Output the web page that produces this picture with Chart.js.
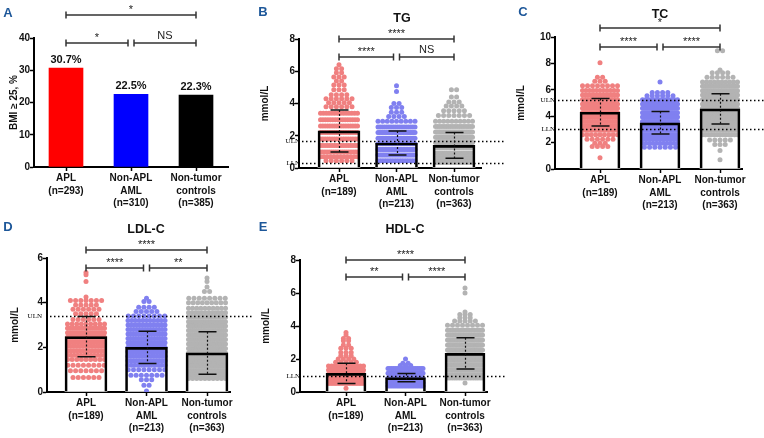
<!DOCTYPE html>
<html>
<head>
<meta charset="utf-8">
<script src="https://cdn.jsdelivr.net/npm/chart.js@4"></script>
<style>
html, body { margin: 0; padding: 0; background: #fff; }
#wrap { position: relative; width: 764px; height: 438px; }
#wrap canvas { position: absolute; left: 0; top: 0; }
</style>
</head>
<body>
<div id="wrap">
  <canvas id="cA" width="764" height="438"></canvas>
  <canvas id="cB" width="764" height="438"></canvas>
  <canvas id="cC" width="764" height="438"></canvas>
  <canvas id="cD" width="764" height="438"></canvas>
  <canvas id="cE" width="764" height="438"></canvas>
</div>
<script>
// ---- data ----
const labelsBmi = [['APL', '(n=293)'], ['Non-APL', 'AML', '(n=310)'], ['Non-tumor', 'controls', '(n=385)']];
const labelsLipid = [['APL', '(n=189)'], ['Non-APL', 'AML', '(n=213)'], ['Non-tumor', 'controls', '(n=363)']];

const bmiPct = [30.7, 22.5, 22.3];
const bmiSig = ['*', '*', 'NS'];   // APL-control, APL-AML, AML-control

const tgMean = [2.3, 1.55, 1.4];
const tgSd = [1.3, 0.75, 0.8];
const tgSig = ['****', '****', 'NS'];
const tgRefNames = ['ULN', 'LLN'];
const tgRefValues = [1.7, 0.3];
const tgAplLevels = [6.4, 6.15, 5.9, 5.65, 5.4, 5.15, 4.85, 4.55, 4.3, 4.05, 3.8, 3.4, 3.0, 2.6, 2.2, 1.8, 1.4, 1.0, 0.7, 0.45];
const tgAplCounts = [1, 2, 2, 3, 2, 3, 3, 4, 6, 5, 6, 14, 16, 17, 17, 17, 17, 18, 12, 6];
const tgAmlLevels = [5.1, 4.75, 4.0, 3.75, 3.45, 3.2, 2.9, 2.55, 2.2, 1.85, 1.5, 1.15, 0.8, 0.45];
const tgAmlCounts = [1, 1, 2, 3, 3, 4, 9, 18, 24, 26, 26, 26, 24, 16];
const tgCtlLevels = [4.85, 4.4, 4.1, 3.85, 3.55, 3.25, 2.9, 2.57, 2.24, 1.91, 1.58, 1.25, 0.92, 0.6, 0.35];
const tgCtlCounts = [2, 2, 3, 4, 5, 7, 10, 18, 30, 36, 40, 42, 42, 38, 24];

const tcMean = [4.3, 3.5, 4.55];
const tcSd = [1.05, 0.85, 1.15];
const tcSig = ['*', '****', '****'];
const tcRefNames = ['ULN', 'LLN'];
const tcRefValues = [5.2, 3.0];
const tcAplLevels = [8.05, 6.95, 6.65, 6.3, 5.95, 5.6, 5.27, 4.93, 4.6, 4.27, 3.93, 3.6, 3.27, 2.93, 2.6, 2.25, 1.95, 1.7, 0.85];
const tcAplCounts = [1, 2, 3, 8, 11, 13, 14, 15, 16, 16, 16, 15, 14, 12, 9, 6, 3, 4, 1];
const tcAmlLevels = [6.6, 5.8, 5.55, 5.25, 4.92, 4.6, 4.27, 3.93, 3.6, 3.27, 2.93, 2.6, 2.27, 1.95, 1.65];
const tcAmlCounts = [1, 4, 6, 12, 15, 17, 18, 19, 19, 19, 18, 17, 15, 11, 7];
const tcCtlLevels = [8.95, 7.5, 7.3, 6.95, 6.6, 6.27, 5.93, 5.6, 5.27, 4.93, 4.6, 4.27, 3.93, 3.6, 3.27, 2.93, 2.6, 2.2, 1.85, 1.4, 0.7];
const tcCtlCounts = [2, 1, 4, 6, 10, 14, 20, 27, 29, 30, 30, 30, 29, 28, 22, 18, 13, 5, 3, 1, 1];

const ldlMean = [2.48, 2.0, 1.75];
const ldlSd = [0.9, 0.72, 0.95];
const ldlSig = ['****', '****', '**'];
const ldlRefNames = ['ULN'];
const ldlRefValues = [3.4];
const ldlAplLevels = [5.35, 5.25, 4.95, 4.25, 4.1, 3.9, 3.7, 3.5, 3.25, 3.05, 2.85, 2.65, 2.45, 2.25, 2.05, 1.85, 1.65, 1.45, 1.2, 0.95, 0.65];
const ldlAplCounts = [1, 1, 1, 1, 7, 5, 6, 5, 6, 9, 14, 16, 17, 16, 15, 13, 12, 9, 8, 7, 6];
const ldlAmlLevels = [4.2, 4.05, 3.8, 3.6, 3.4, 3.2, 3.0, 2.8, 2.6, 2.4, 2.2, 2.0, 1.8, 1.6, 1.4, 1.2, 1.0, 0.75, 0.55, 0.3, 0.05];
const ldlAmlCounts = [1, 2, 4, 5, 8, 11, 13, 14, 15, 15, 16, 16, 16, 15, 14, 12, 8, 7, 3, 2, 1];
const ldlCtlLevels = [5.1, 4.95, 4.7, 4.5, 4.2, 4.0, 3.75, 3.55, 3.35, 3.15, 2.95, 2.75, 2.55, 2.35, 2.15, 1.95, 1.75, 1.55, 1.35, 1.15, 0.95, 0.75, 0.6];
const ldlCtlCounts = [1, 1, 1, 2, 8, 9, 10, 12, 14, 16, 18, 19, 20, 21, 22, 23, 24, 24, 24, 24, 22, 18, 10];

const hdlMean = [1.13, 0.87, 2.34];
const hdlSd = [0.62, 0.25, 0.95];
const hdlSig = ['****', '**', '****'];
const hdlRefNames = ['LLN'];
const hdlRefValues = [1.0];
const hdlAplLevels = [3.6, 3.45, 3.25, 3.1, 2.85, 2.65, 2.4, 2.2, 2.0, 1.8, 1.58, 1.33, 1.07, 0.8, 0.53, 0.22];
const hdlAplCounts = [1, 1, 2, 2, 2, 3, 3, 3, 4, 5, 12, 30, 38, 38, 26, 1];
const hdlAmlLevels = [2.0, 1.75, 1.6, 1.43, 1.13, 0.83, 0.56, 0.36];
const hdlAmlCounts = [1, 2, 3, 20, 45, 55, 50, 20];
const hdlCtlLevels = [6.3, 6.0, 4.85, 4.7, 4.5, 4.3, 4.05, 3.75, 3.45, 3.15, 2.85, 2.55, 2.25, 1.95, 1.65, 1.35, 1.05, 0.85, 0.55];
const hdlCtlCounts = [1, 1, 1, 3, 3, 5, 8, 14, 22, 28, 31, 33, 34, 34, 33, 31, 28, 16, 1];

// ---- style ----
Chart.defaults.font.family = "'Liberation Sans', Arial, sans-serif";
Chart.defaults.font.size = 10;
Chart.defaults.font.weight = 'bold';
Chart.defaults.color = '#111';
Chart.defaults.animation = false;
Chart.defaults.plugins.legend.display = false;
Chart.defaults.plugins.tooltip.enabled = false;

const W = 764, H = 438, X_AXIS_H = 50;
const barColors = ['#ff0000', '#0000ff', '#000000'];
const dotColors = ['#f08080', '#8080f0', '#b3b3b3'];
const letterColor = '#1d5799';

// rows of dots laid side by side around the category centre
function swarm(levels, counts, xc, stepU, halfU) {
  const pts = [];
  levels.forEach((v, i) => {
    const n = counts[i];
    const s = n > 1 ? Math.min(stepU, 2 * halfU / (n - 1)) : 0;
    for (let k = 0; k < n; k++) pts.push({ x: xc + (k - (n - 1) / 2) * s, y: v });
  });
  return pts;
}

function overlay(L, d) {
  return {
    id: 'overlay' + L.canvas,
    afterDatasetsDraw(chart) {
      const ctx = chart.ctx, xs = chart.scales.x, ys = chart.scales.y;
      ctx.save();
      // reference lines
      (d.refNames || []).forEach((nm, i) => {
        const y = Math.round(ys.getPixelForValue(d.refValues[i])) + 0.5;
        ctx.strokeStyle = '#000';
        ctx.lineWidth = 1.5;
        ctx.setLineDash([1.5, 2.5]);
        ctx.beginPath(); ctx.moveTo(L.left + 3, y); ctx.lineTo(L.refEnd, y); ctx.stroke();
        ctx.setLineDash([]);
        ctx.font = '7px "Liberation Serif", serif';
        ctx.fillStyle = '#000';
        ctx.textAlign = 'right';
        ctx.textBaseline = 'middle';
        ctx.fillText(nm, L.refLabelX, y);
      });
      // mean +/- SD
      if (d.sd) {
        d.means.forEach((m, i) => {
          const x = Math.round(xs.getPixelForValue(i)) + 0.5;
          const yHi = ys.getPixelForValue(m + d.sd[i]);
          const yLo = ys.getPixelForValue(Math.max(0, m - d.sd[i]));
          ctx.strokeStyle = '#111';
          ctx.lineWidth = 1.2;
          ctx.setLineDash([2, 2]);
          ctx.beginPath(); ctx.moveTo(x, yHi); ctx.lineTo(x, yLo); ctx.stroke();
          ctx.setLineDash([]);
          ctx.lineWidth = 1.5;
          ctx.beginPath();
          ctx.moveTo(x - 9, yHi); ctx.lineTo(x + 9, yHi);
          ctx.moveTo(x - 9, yLo); ctx.lineTo(x + 9, yLo);
          ctx.stroke();
        });
      }
      // value labels above bars
      if (d.valueLabels) {
        ctx.font = "bold 11px 'Liberation Sans', Arial";
        ctx.fillStyle = '#111';
        ctx.textAlign = 'center';
        ctx.textBaseline = 'middle';
        d.means.forEach((m, i) => {
          ctx.fillText(m.toFixed(1) + '%', xs.getPixelForValue(i), ys.getPixelForValue(m) - 8);
        });
      }
      // significance brackets
      const c0 = xs.getPixelForValue(0), c1 = xs.getPixelForValue(1), c2 = xs.getPixelForValue(2);
      const spans = [[c0, c2, L.brackets[0]], [c0, c1 - 3, L.brackets[1]], [c1 + 3, c2, L.brackets[1]]];
      ctx.strokeStyle = '#333';
      ctx.lineWidth = 1.5;
      spans.forEach(([x1, x2, y], i) => {
        ctx.beginPath();
        ctx.moveTo(x1, y); ctx.lineTo(x2, y);
        ctx.moveTo(x1, y - 3.5); ctx.lineTo(x1, y + 3.5);
        ctx.moveTo(x2, y - 3.5); ctx.lineTo(x2, y + 3.5);
        ctx.stroke();
        const t = d.sig[i];
        ctx.fillStyle = '#222';
        ctx.textAlign = 'center';
        ctx.font = "11px 'Liberation Sans', Arial";
        if (t === 'NS') {
          ctx.textBaseline = 'middle';
          ctx.fillText(t, (x1 + x2) / 2, y - 7);
        } else {
          ctx.textBaseline = 'alphabetic';
          ctx.fillText(t, (x1 + x2) / 2, y - 2);
        }
      });
      // panel letter and title
      ctx.fillStyle = letterColor;
      ctx.font = "bold 13px 'Liberation Sans', Arial";
      ctx.textAlign = 'center';
      ctx.textBaseline = 'middle';
      ctx.fillText(L.letter[0], L.letter[1], L.letter[2]);
      if (L.title) {
        ctx.fillStyle = '#111';
        ctx.font = "bold 12.5px 'Liberation Sans', Arial";
        ctx.fillText(L.title[0], L.title[1], L.title[2]);
      }
      ctx.restore();
    }
  };
}

function makePanel(L, d) {
  const xMin = (L.left - L.c0) / L.ppu, xMax = (L.right - L.c0) / L.ppu;
  const yW = L.left - L.yTitleX + 6;
  const barData = d.means.map((v, i) => ({ x: i, y: v }));
  const datasets = [];
  if (d.solid) {
    datasets.push({ type: 'bar', data: barData, backgroundColor: barColors, barThickness: L.barPx, grouped: false, order: 3 });
  } else {
    datasets.push({ type: 'bar', data: barData, backgroundColor: '#fff', barThickness: L.barPx, grouped: false, order: 4 });
    d.dots.forEach((g, i) => {
      datasets.push({
        type: 'scatter',
        data: swarm(g[0], g[1], i, 5.2 / L.ppu, (L.barPx / 2 - 2.5) / L.ppu),
        backgroundColor: dotColors[i], pointRadius: 2.5, pointBorderWidth: 0, order: 2
      });
    });
    datasets.push({ type: 'bar', data: barData, backgroundColor: 'rgba(0,0,0,0)', borderColor: '#000', borderWidth: 2, barThickness: L.barPx, grouped: false, order: 1 });
  }
  const axisGrid = { drawOnChartArea: false, drawTicks: true, tickLength: 4, tickWidth: 1.5, tickColor: '#000', offset: false };
  new Chart(document.getElementById(L.canvas), {
    type: 'bar',
    data: { datasets },
    options: {
      responsive: false,
      layout: { padding: { left: L.left - yW, right: W - L.right, top: L.top, bottom: H - L.bottom - X_AXIS_H } },
      scales: {
        x: {
          type: 'linear', min: xMin, max: xMax, offset: false,
          afterBuildTicks: s => { s.ticks = [0, 1, 2].map(v => ({ value: v })); },
          afterFit: s => { s.height = X_AXIS_H; },
          ticks: { callback: v => d.xLabels[v], autoSkip: false, maxRotation: 0, padding: 1, font: { size: 10, weight: 'bold', lineHeight: 1.25 } },
          grid: axisGrid,
          border: { display: true, color: '#000', width: 2 }
        },
        y: {
          min: 0, max: L.yMax,
          afterFit: s => { s.width = yW; },
          ticks: { stepSize: L.yStep, padding: 0, font: { size: 10, weight: 'bold' } },
          title: { display: true, text: d.yTitle, padding: 0, font: { size: 10, weight: 'bold' } },
          grid: axisGrid,
          border: { display: true, color: '#000', width: 2 }
        }
      }
    },
    plugins: [overlay(L, d)]
  });
}

makePanel(
  { canvas: 'cA', left: 34, right: 228, top: 38, bottom: 167, c0: 66, ppu: 65, yTitleX: 14, yMax: 40, yStep: 10, barPx: 34,
    brackets: [15, 43], letter: ['A', 8, 13], title: null },
  { solid: true, means: bmiPct, sig: bmiSig, xLabels: labelsBmi, yTitle: 'BMI ≥ 25, %', valueLabels: true }
);
makePanel(
  { canvas: 'cB', left: 299, right: 481, top: 39, bottom: 168, c0: 339, ppu: 57.5, yTitleX: 265, yMax: 8, yStep: 2, barPx: 42,
    brackets: [39, 57], letter: ['B', 263, 12], title: ['TG', 402, 19], refEnd: 505, refLabelX: 300 },
  { means: tgMean, sd: tgSd, sig: tgSig, xLabels: labelsLipid, yTitle: 'mmol/L', refNames: tgRefNames, refValues: tgRefValues,
    dots: [[tgAplLevels, tgAplCounts], [tgAmlLevels, tgAmlCounts], [tgCtlLevels, tgCtlCounts]] }
);
makePanel(
  { canvas: 'cC', left: 555, right: 742, top: 37, bottom: 169, c0: 600, ppu: 60, yTitleX: 521, yMax: 10, yStep: 2, barPx: 40,
    brackets: [28, 47], letter: ['C', 523, 12], title: ['TC', 660, 15], refEnd: 764, refLabelX: 555 },
  { means: tcMean, sd: tcSd, sig: tcSig, xLabels: labelsLipid, yTitle: 'mmol/L', refNames: tcRefNames, refValues: tcRefValues,
    dots: [[tcAplLevels, tcAplCounts], [tcAmlLevels, tcAmlCounts], [tcCtlLevels, tcCtlCounts]] }
);
makePanel(
  { canvas: 'cD', left: 47, right: 230, top: 258, bottom: 392, c0: 86, ppu: 60.5, yTitleX: 15, yMax: 6, yStep: 2, barPx: 42,
    brackets: [250, 268], letter: ['D', 8, 227], title: ['LDL-C', 146, 230], refEnd: 252, refLabelX: 42 },
  { means: ldlMean, sd: ldlSd, sig: ldlSig, xLabels: labelsLipid, yTitle: 'mmol/L', refNames: ldlRefNames, refValues: ldlRefValues,
    dots: [[ldlAplLevels, ldlAplCounts], [ldlAmlLevels, ldlAmlCounts], [ldlCtlLevels, ldlCtlCounts]] }
);
makePanel(
  { canvas: 'cE', left: 300, right: 487, top: 260, bottom: 392, c0: 346, ppu: 59.5, yTitleX: 266, yMax: 8, yStep: 2, barPx: 40,
    brackets: [260, 277], letter: ['E', 263, 227], title: ['HDL-C', 405, 230], refEnd: 505, refLabelX: 300 },
  { means: hdlMean, sd: hdlSd, sig: hdlSig, xLabels: labelsLipid, yTitle: 'mmol/L', refNames: hdlRefNames, refValues: hdlRefValues,
    dots: [[hdlAplLevels, hdlAplCounts], [hdlAmlLevels, hdlAmlCounts], [hdlCtlLevels, hdlCtlCounts]] }
);
</script>
</body>
</html>
